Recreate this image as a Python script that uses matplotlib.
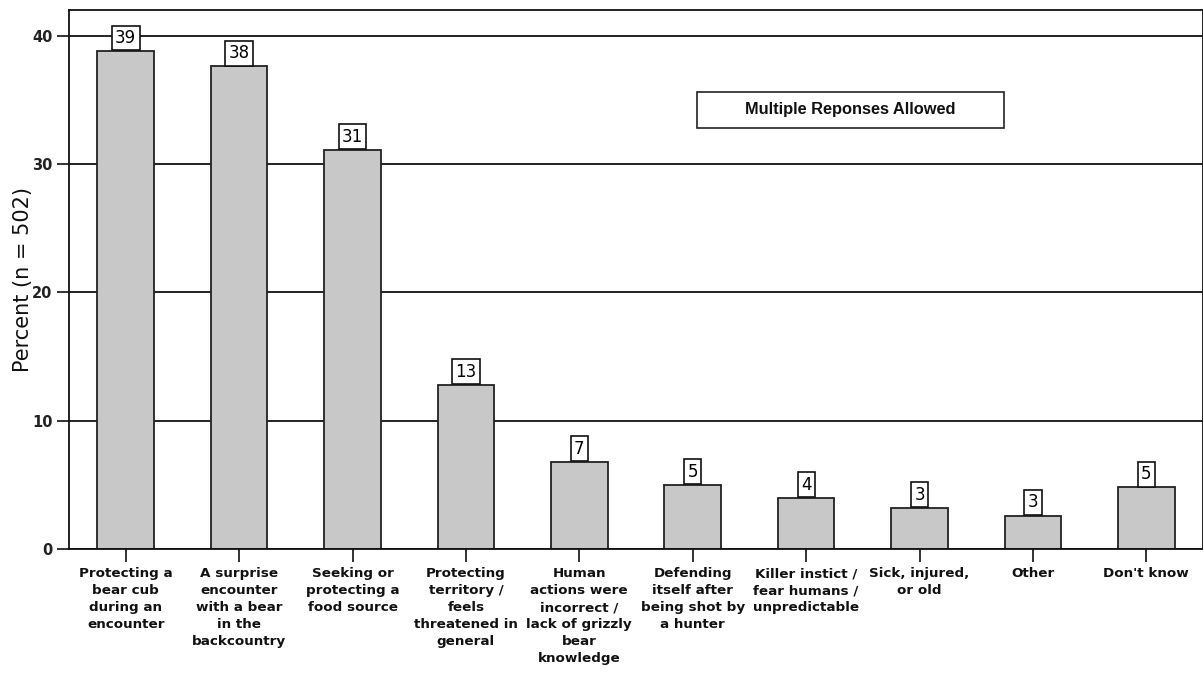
import matplotlib
matplotlib.use("Agg")
import matplotlib.pyplot as plt
from matplotlib.patches import Rectangle

categories = [
    "Protecting a\nbear cub\nduring an\nencounter",
    "A surprise\nencounter\nwith a bear\nin the\nbackcountry",
    "Seeking or\nprotecting a\nfood source",
    "Protecting\nterritory /\nfeels\nthreatened in\ngeneral",
    "Human\nactions were\nincorrect /\nlack of grizzly\nbear\nknowledge",
    "Defending\nitself after\nbeing shot by\na hunter",
    "Killer instict /\nfear humans /\nunpredictable",
    "Sick, injured,\nor old",
    "Other",
    "Don't know",
]
percent = [38.8, 37.6, 31.1, 12.8, 6.8, 5.0, 4.0, 3.2, 2.6, 4.8]
yticks = [0, 10, 20, 30, 40]

fig = plt.figure(figsize=(12.03, 6.75), dpi=100)
ax = fig.add_axes([69 / 1203, 126 / 675, 1134 / 1203, 539 / 675])

x = list(range(len(categories)))
ax.set_axisbelow(True)
ax.yaxis.grid(True, color="#111111", linewidth=1.3)
ax.bar(x, percent, width=0.5, color="#c8c8c8", edgecolor="#222222", linewidth=1.3, zorder=2)

for xi, v in zip(x, percent):
    ax.annotate(f"{v:.0f}", (xi, v), xytext=(0, 3.0), textcoords="offset points",
                ha="center", va="bottom", fontsize=12, color="black", zorder=4,
                bbox=dict(boxstyle="square,pad=0.2", facecolor="white",
                          edgecolor="#111111", linewidth=1.2))

ax.set_xlim(-0.5, len(categories) - 0.5)
ax.set_ylim(0, 42)
ax.set_yticks(yticks)
ax.set_yticklabels([str(t) for t in yticks], fontsize=10.5, fontweight="bold",
                   color="#222222")
ax.set_xticks(x)
ax.set_xticklabels(categories, fontsize=9.7, fontweight="bold", linespacing=1.4,
                   va="top", ha="center", color="#111111")
ax.tick_params(axis="both", direction="out", length=9, width=1.3, color="#222222")
ax.tick_params(axis="x", pad=4)
ax.tick_params(axis="y", pad=3)
ax.set_ylabel("Percent (n = 502)", fontsize=15, labelpad=-1, color="#111111")

for s in ax.spines.values():
    s.set_color("#111111")
    s.set_linewidth(1.3)

note = Rectangle((0.5538, 0.781), 0.2707, 0.067, transform=ax.transAxes,
                 facecolor="white", edgecolor="#222222", linewidth=1.2, zorder=5)
ax.add_patch(note)
ax.text(0.5538 + 0.2707 / 2, 0.781 + 0.067 / 2, "Multiple Reponses Allowed",
        transform=ax.transAxes, ha="center", va="center", fontsize=11.8,
        fontweight="bold", family="Liberation Sans", color="#111111", zorder=6)

fig.savefig("out.png", dpi=100)
